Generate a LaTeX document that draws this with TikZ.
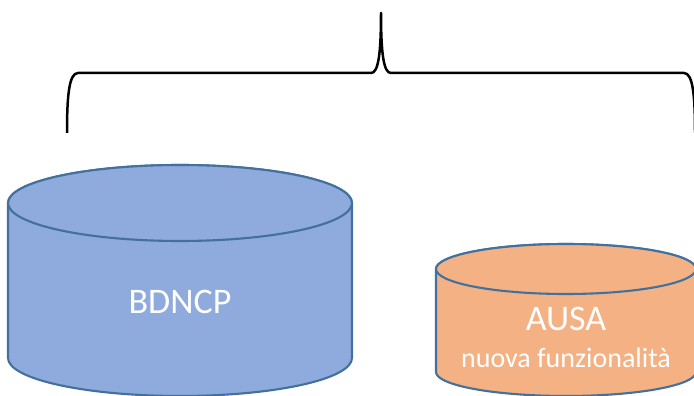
\documentclass[tikz,border=0pt]{standalone}
\usepackage{fontspec}
\setmainfont{Carlito}
\definecolor{dbblue}{RGB}{143,170,220}
\definecolor{dborange}{RGB}{244,177,131}
\definecolor{dbedge}{RGB}{65,113,156}
\begin{document}
\begin{tikzpicture}[x=1pt,y=1pt,
    dbshape/.style={draw=dbedge,line width=2.1pt},
    dbtext/.style={text=white,inner sep=0pt},
    brace/.style={line width=2.5pt,line join=round}]
  \useasboundingbox (0,0) rectangle (694,396);
  % brace
  \coordinate (braceL) at (67,263);
  \coordinate (braceR) at (695,263);
  \coordinate (tip) at (381,383);
  \draw [brace] (braceL) .. controls (67,300) and (69,323) .. (78,323) -- (371,323)
    .. controls (378,323) and (381,340) .. (tip)
    .. controls (381,340) and (384,323) .. (391,323) -- (684,323)
    .. controls (693,323) and (695,300) .. (braceR);
  % BDNCP
  \filldraw [dbshape,fill=dbblue] (8,193) -- (8,38)
    arc [start angle=180,end angle=360,x radius=172,y radius=38] -- (352,193)
    arc [start angle=0,end angle=180,x radius=172,y radius=38] -- cycle;
  \filldraw [dbshape,fill=dbblue] (180,193) ellipse [x radius=172,y radius=38];
  \node [dbtext] (bdncp) at (180,94) {\fontsize{36}{40}\selectfont BDNCP};
  % AUSA
  \filldraw [dbshape,fill=dborange] (436,127) -- (436,24)
    arc [start angle=180,end angle=360,x radius=130,y radius=24] -- (696,127)
    arc [start angle=0,end angle=180,x radius=130,y radius=25] -- cycle;
  \filldraw [dbshape,fill=dborange] (566,127) ellipse [x radius=130,y radius=25];
  \node [dbtext] (ausa) at (566,77) {\fontsize{36}{40}\selectfont AUSA};
  \node [dbtext] (ausanote) at (566,38) {\fontsize{28}{30}\selectfont nuova funzionalità};
\end{tikzpicture}
\end{document}
